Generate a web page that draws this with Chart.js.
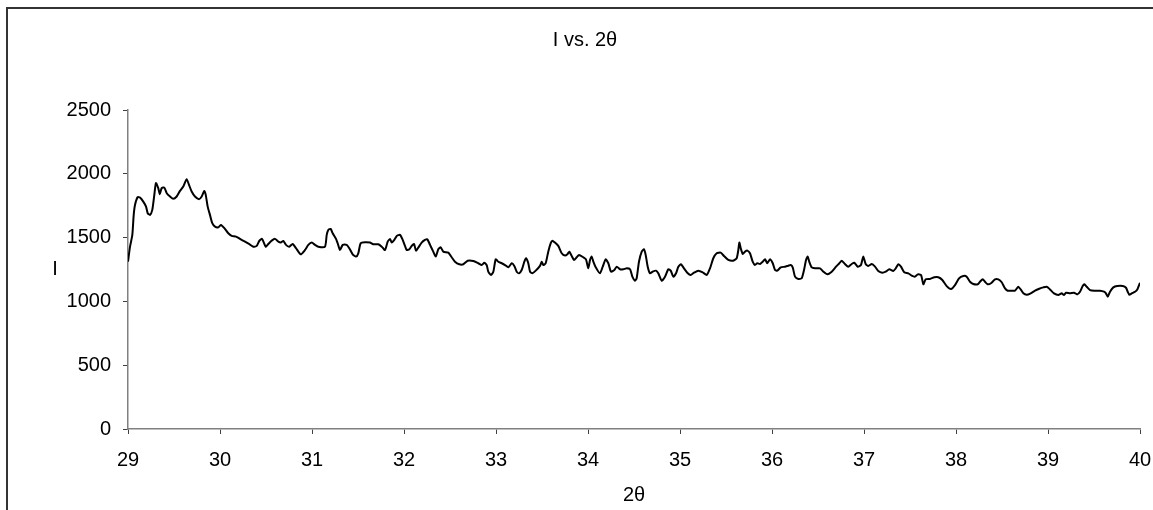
<!DOCTYPE html>
<html>
<head>
<meta charset="utf-8">
<script src="https://cdn.jsdelivr.net/npm/chart.js@4.4.1/dist/chart.umd.min.js"></script>
<style>
  html, body { margin: 0; padding: 0; background: #fff; overflow: hidden; width: 1153px; height: 510px; }
  #frame { position: absolute; left: 6px; top: 7px; width: 2000px; height: 2000px; border: 2px solid #333; box-sizing: border-box; }
  #wrap { position: absolute; left: 0; top: 0; width: 1153px; height: 510px; }
</style>
</head>
<body>
<div id="frame"></div>
<div id="wrap"><canvas id="c" width="1153" height="510"></canvas></div>
<script>
const chartTitle = 'I vs. 2θ';
const xTitle = '2θ';
const yTitle = 'I';
const xTicks = [29, 30, 31, 32, 33, 34, 35, 36, 37, 38, 39, 40];
const yTicks = [0, 500, 1000, 1500, 2000, 2500];

const twoTheta = [
  29.000, 29.022, 29.047, 29.062, 29.076, 29.105, 29.130, 29.166, 29.196, 29.214,
  29.239, 29.264, 29.286, 29.304, 29.329, 29.345, 29.366, 29.395, 29.421, 29.457,
  29.492, 29.529, 29.565, 29.601, 29.638, 29.663, 29.692, 29.728, 29.772, 29.801,
  29.829, 29.845, 29.866, 29.891, 29.916, 29.946, 29.982, 30.011, 30.047, 30.090,
  30.127, 30.174, 30.217, 30.272, 30.315, 30.362, 30.399, 30.427, 30.457, 30.497,
  30.525, 30.562, 30.598, 30.634, 30.660, 30.688, 30.717, 30.753, 30.790, 30.826,
  30.877, 30.924, 30.960, 30.997, 31.033, 31.068, 31.141, 31.160, 31.177, 31.203,
  31.225, 31.261, 31.279, 31.304, 31.334, 31.377, 31.405, 31.442, 31.478, 31.503,
  31.529, 31.576, 31.630, 31.666, 31.721, 31.758, 31.793, 31.823, 31.848, 31.866,
  31.895, 31.921, 31.957, 31.986, 32.011, 32.029, 32.058, 32.084, 32.109, 32.130,
  32.155, 32.192, 32.228, 32.253, 32.283, 32.318, 32.345, 32.373, 32.399, 32.427,
  32.482, 32.518, 32.554, 32.601, 32.645, 32.692, 32.753, 32.808, 32.845, 32.873,
  32.899, 32.916, 32.946, 32.971, 32.997, 33.025, 33.062, 33.098, 33.134, 33.171,
  33.199, 33.225, 33.250, 33.279, 33.308, 33.326, 33.351, 33.370, 33.395, 33.432,
  33.478, 33.497, 33.514, 33.540, 33.568, 33.595, 33.612, 33.641, 33.677, 33.714,
  33.750, 33.779, 33.797, 33.823, 33.848, 33.877, 33.902, 33.949, 33.978, 34.003,
  34.022, 34.040, 34.058, 34.084, 34.130, 34.160, 34.192, 34.221, 34.250, 34.286,
  34.312, 34.348, 34.384, 34.421, 34.457, 34.482, 34.511, 34.529, 34.554, 34.584,
  34.609, 34.627, 34.649, 34.674, 34.703, 34.739, 34.764, 34.801, 34.837, 34.873,
  34.899, 34.927, 34.957, 34.982, 35.011, 35.043, 35.079, 35.116, 35.152, 35.199,
  35.247, 35.290, 35.326, 35.362, 35.399, 35.442, 35.478, 35.525, 35.579, 35.616,
  35.634, 35.645, 35.660, 35.682, 35.707, 35.732, 35.761, 35.790, 35.815, 35.840,
  35.870, 35.899, 35.924, 35.949, 35.978, 36.008, 36.033, 36.058, 36.095, 36.141,
  36.177, 36.203, 36.225, 36.250, 36.286, 36.323, 36.348, 36.370, 36.388, 36.405,
  36.432, 36.467, 36.522, 36.558, 36.601, 36.649, 36.696, 36.732, 36.758, 36.793,
  36.829, 36.866, 36.895, 36.932, 36.967, 36.992, 37.018, 37.047, 37.084, 37.120,
  37.155, 37.199, 37.236, 37.275, 37.318, 37.345, 37.373, 37.402, 37.438, 37.482,
  37.518, 37.554, 37.584, 37.620, 37.645, 37.671, 37.717, 37.764, 37.808, 37.851,
  37.899, 37.946, 37.989, 38.033, 38.079, 38.116, 38.152, 38.188, 38.236, 38.261,
  38.290, 38.315, 38.344, 38.380, 38.424, 38.460, 38.497, 38.533, 38.562, 38.605,
  38.641, 38.677, 38.703, 38.732, 38.768, 38.812, 38.859, 38.905, 38.949, 38.986,
  39.022, 39.065, 39.112, 39.149, 39.174, 39.196, 39.239, 39.283, 39.318, 39.348,
  39.377, 39.395, 39.421, 39.457, 39.511, 39.565, 39.609, 39.630, 39.649, 39.674,
  39.710, 39.753, 39.812, 39.848, 39.866, 39.884, 39.910, 39.946, 39.971, 40.000
];

const intensity = [
  1311, 1429, 1521, 1678, 1756, 1817, 1814, 1782, 1743, 1691,
  1678, 1717, 1835, 1927, 1888, 1840, 1888, 1892, 1848, 1822,
  1804, 1822, 1866, 1900, 1958, 1913, 1861, 1822, 1801, 1822,
  1866, 1835, 1743, 1678, 1613, 1586, 1581, 1599, 1574, 1534,
  1513, 1508, 1490, 1468, 1450, 1429, 1435, 1474, 1490, 1429,
  1450, 1476, 1490, 1468, 1461, 1474, 1443, 1429, 1450, 1417,
  1369, 1403, 1443, 1461, 1443, 1429, 1429, 1521, 1560, 1568,
  1534, 1490, 1456, 1403, 1443, 1443, 1417, 1369, 1351, 1377,
  1456, 1464, 1461, 1448, 1448, 1429, 1403, 1468, 1490, 1461,
  1482, 1513, 1521, 1482, 1435, 1403, 1409, 1435, 1450, 1398,
  1421, 1461, 1482, 1487, 1443, 1390, 1351, 1409, 1424, 1390,
  1382, 1346, 1311, 1291, 1291, 1319, 1317, 1299, 1285, 1303,
  1285, 1233, 1207, 1233, 1330, 1311, 1299, 1285, 1267, 1299,
  1278, 1233, 1220, 1246, 1311, 1338, 1299, 1233, 1220, 1241,
  1278, 1311, 1285, 1299, 1390, 1456, 1476, 1461, 1435, 1377,
  1359, 1372, 1390, 1356, 1325, 1346, 1364, 1346, 1330, 1259,
  1325, 1351, 1311, 1267, 1220, 1272, 1330, 1299, 1233, 1246,
  1272, 1252, 1252, 1259, 1252, 1194, 1162, 1181, 1311, 1390,
  1409, 1364, 1272, 1220, 1233, 1241, 1220, 1162, 1194, 1252,
  1241, 1194, 1220, 1272, 1291, 1259, 1225, 1207, 1225, 1241,
  1228, 1207, 1259, 1338, 1377, 1382, 1356, 1325, 1319, 1338,
  1403, 1461, 1417, 1372, 1390, 1398, 1377, 1311, 1285, 1299,
  1293, 1311, 1330, 1299, 1330, 1299, 1246, 1241, 1267, 1272,
  1280, 1285, 1267, 1194, 1176, 1181, 1246, 1325, 1351, 1311,
  1267, 1259, 1259, 1233, 1212, 1233, 1272, 1299, 1319, 1293,
  1272, 1293, 1303, 1272, 1285, 1351, 1293, 1278, 1293, 1272,
  1238, 1225, 1233, 1252, 1238, 1259, 1291, 1272, 1228, 1220,
  1202, 1194, 1212, 1207, 1134, 1173, 1176, 1189, 1189, 1168,
  1120, 1097, 1128, 1181, 1199, 1194, 1154, 1136, 1134, 1154,
  1173, 1154, 1134, 1142, 1173, 1173, 1150, 1102, 1084, 1084,
  1084, 1115, 1094, 1063, 1052, 1063, 1084, 1099, 1110, 1115,
  1094, 1063, 1050, 1063, 1050, 1068, 1063, 1068, 1055, 1076,
  1120, 1134, 1115, 1089, 1084, 1084, 1076, 1063, 1037, 1076,
  1110, 1120, 1120, 1107, 1076, 1052, 1063, 1076, 1094, 1146
];

const FONT = "'Liberation Sans', Arial, sans-serif";

const yTitlePlugin = {
  id: 'uprightYTitle',
  afterDraw(chart) {
    const t = chart.options.scales.y.title;
    const area = chart.chartArea;
    const ctx = chart.ctx;
    ctx.save();
    ctx.font = '20px ' + FONT;
    ctx.fillStyle = '#000';
    ctx.textAlign = 'center';
    ctx.textBaseline = 'middle';
    ctx.fillText(t.text, 55, (area.top + area.bottom) / 2);
    ctx.restore();
  }
};

new Chart(document.getElementById('c'), {
  type: 'line',
  data: {
    datasets: [{
      data: twoTheta.map((x, i) => ({ x: x, y: intensity[i] })),
      borderColor: '#000',
      borderWidth: 2,
      pointRadius: 0,
      tension: 0.2,
      fill: false
    }]
  },
  options: {
    responsive: false,
    animation: false,
    events: [],
    layout: { padding: { left: 17, right: 0, top: 0, bottom: 0 } },
    plugins: {
      legend: { display: false },
      tooltip: { enabled: false },
      title: {
        display: true,
        text: chartTitle,
        color: '#000',
        font: { family: FONT, size: 20, weight: 'normal' },
        padding: { top: 28, bottom: 58 }
      }
    },
    scales: {
      x: {
        type: 'linear',
        min: xTicks[0],
        max: xTicks[xTicks.length - 1],
        afterBuildTicks(scale) { scale.ticks = xTicks.map(v => ({ value: v })); },
        afterFit(scale) { scale.height = 81; scale.paddingRight = 13; scale.paddingLeft = 0; },
        ticks: { color: '#000', font: { family: FONT, size: 20 }, padding: 14, maxRotation: 0, autoSkip: false,
                 callback: v => String(v) },
        grid: { display: true, drawOnChartArea: false, drawTicks: true, tickLength: 5, color: '#404040', lineWidth: 1 },
        border: { display: true, color: '#808080', width: 1.5 },
        title: { display: true, text: xTitle, color: '#000', font: { family: FONT, size: 20 }, padding: { top: 0, bottom: 3 } }
      },
      y: {
        type: 'linear',
        min: yTicks[0],
        max: yTicks[yTicks.length - 1],
        afterBuildTicks(scale) { scale.ticks = yTicks.map(v => ({ value: v })); },
        afterFit(scale) { scale.width = 111; },
        ticks: { color: '#000', font: { family: FONT, size: 20 }, padding: 12, callback: v => String(v) },
        grid: { display: true, drawOnChartArea: false, drawTicks: true, tickLength: 5, color: '#404040', lineWidth: 1 },
        border: { display: true, color: '#808080', width: 1.5 },
        title: { display: false, text: yTitle }
      }
    }
  },
  plugins: [yTitlePlugin]
});
</script>
</body>
</html>
